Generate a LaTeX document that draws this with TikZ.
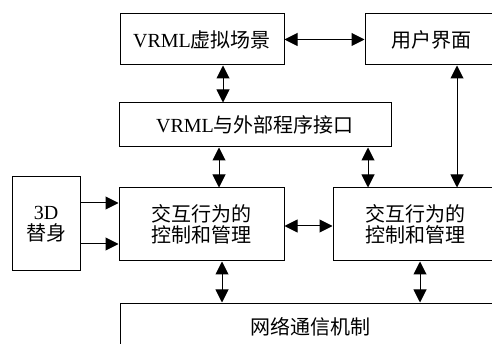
\documentclass[tikz,border=0pt]{standalone}
\usepackage{fontspec}
\setmainfont{Liberation Serif}
\newfontfamily\cjk{Noto Sans CJK SC}
\usetikzlibrary{arrows.meta}
\tikzset{
  box/.style={draw=black, line width=1pt, fill=white, inner sep=0pt, align=center,
    font=\fontsize{20}{24}\selectfont},
  dbl/.style={line width=1pt, {Triangle[length=13pt,width=13pt]}-{Triangle[length=13pt,width=13pt]}},
  one/.style={line width=1pt, -{Triangle[length=13pt,width=13pt]}}
}
\begin{document}
\begin{tikzpicture}[x=1pt,y=-1pt]
\useasboundingbox (0,0) rectangle (492,344);
\clip (0,0) rectangle (492,344);
\node[box, minimum width=164pt, minimum height=51pt] (scene) at (202,39.5) {VRML{\cjk 虚拟场景}};
\node[box, minimum width=132pt, minimum height=51pt] (ui) at (431,39.5) {\cjk 用户界面};
\node[box, minimum width=272pt, minimum height=44pt] (iface) at (255,125) {VRML{\cjk 与外部程序接口}};
\node[box, minimum width=68pt, minimum height=94pt] (avatar) at (46,224) {3D\\[-3pt]{\cjk 替身}};
\node[box, minimum width=165pt, minimum height=73pt] (int1) at (201.5,224.5) {\cjk 交互行为的\\[-3pt]\cjk 控制和管理};
\node[box, minimum width=165pt, minimum height=73pt] (int2) at (415.5,224.5) {\cjk 交互行为的\\[-3pt]\cjk 控制和管理};
\node[box, minimum width=380pt, minimum height=48pt] (net) at (310,327) {\cjk 网络通信机制};
\draw[dbl] (scene.east) -- (ui.west);
\draw[dbl] (scene.south -| 223,0) -- (iface.north -| 223,0);
\draw[dbl] (ui.south -| 457,0) -- (int2.north -| 457,0);
\draw[dbl] (iface.south -| 219,0) -- (int1.north -| 219,0);
\draw[dbl] (iface.south -| 368,0) -- (int2.north -| 368,0);
\draw[one] (avatar.east |- 0,203) -- (int1.west |- 0,203);
\draw[one] (avatar.east |- 0,244) -- (int1.west |- 0,244);
\draw[dbl] (int1.east |- 0,226) -- (int2.west |- 0,226);
\draw[dbl] (int1.south -| 222,0) -- (net.north -| 222,0);
\draw[dbl] (int2.south -| 420,0) -- (net.north -| 420,0);
\end{tikzpicture}
\end{document}
